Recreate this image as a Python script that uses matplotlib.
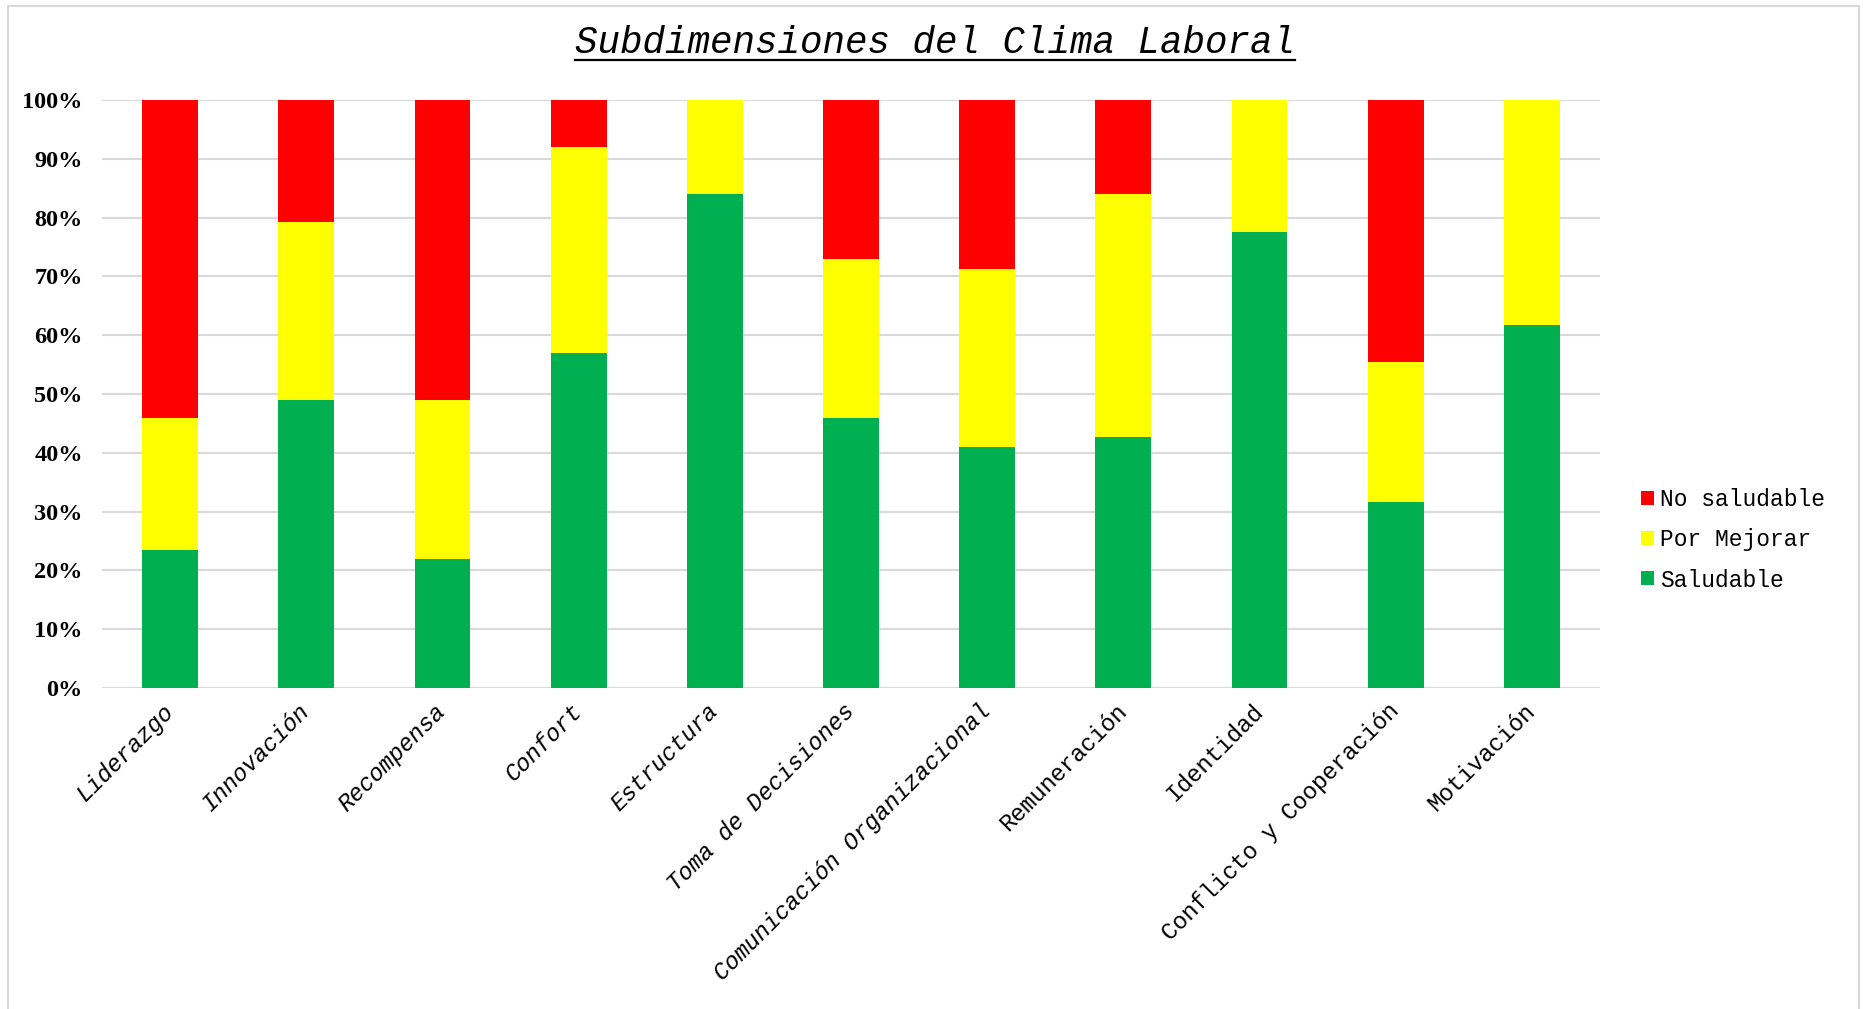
import numpy as np
import matplotlib
matplotlib.use("Agg")
import matplotlib.pyplot as plt
from matplotlib.lines import Line2D
from matplotlib.patches import Rectangle
from matplotlib.ticker import FuncFormatter, MultipleLocator

# Datos (porcentajes)
categorias = ["Liderazgo", "Innovación", "Recompensa", "Confort", "Estructura",
              "Toma de Decisiones", "Comunicación Organizacional", "Remuneración",
              "Identidad", "Conflicto y Cooperación", "Motivación"]
saludable = [23.5, 49.0, 22.0, 57.0, 84.0, 46.0, 41.0, 42.7, 77.6, 31.6, 61.8]
por_mejorar = [22.4, 30.2, 27.0, 35.0, 16.0, 27.0, 30.3, 41.3, 22.4, 23.8, 38.2]
no_saludable = [54.1, 20.8, 51.0, 8.0, 0.0, 27.0, 28.7, 16.0, 0.0, 44.6, 0.0]

verde = "#00B050"
amarillo = "#FFFF00"
rojo = "#FF0000"
mono = "Liberation Mono"

fig = plt.figure(figsize=(18.63, 10.09), dpi=100)
ax = fig.add_axes([0.0548, 0.318, 0.804, 0.583])

x = np.arange(len(categorias))
s = np.array(saludable)
p = np.array(por_mejorar)
n = np.array(no_saludable)
ancho = 0.41
ax.bar(x, s, ancho, color=verde, label="Saludable", zorder=3)
ax.bar(x, p, ancho, bottom=s, color=amarillo, label="Por Mejorar", zorder=3)
ax.bar(x, n, ancho, bottom=s + p, color=rojo, label="No saludable", zorder=3)

ax.set_xlim(-0.5, len(categorias) - 0.5)
ax.set_ylim(0, 100)
ax.yaxis.set_major_locator(MultipleLocator(10))
ax.yaxis.set_major_formatter(FuncFormatter(lambda v, pos: f"{v:.0f}%"))
ax.grid(axis="y", color="#D9D9D9", linewidth=1.5, zorder=0)
ax.tick_params(length=0)
ax.tick_params(axis="y", pad=14)
ax.tick_params(axis="x", pad=14)
for sp in ax.spines.values():
    sp.set_visible(False)

for lab in ax.get_yticklabels():
    lab.set_fontfamily("Liberation Serif")
    lab.set_fontweight("bold")
    lab.set_fontsize(17.5)

ax.set_xticks(x)
ax.set_xticklabels(categorias, rotation=45, ha="right", va="center",
                   rotation_mode="anchor", fontfamily=mono, fontsize=17)
for i, lab in enumerate(ax.get_xticklabels()):
    if i < 7:
        lab.set_fontstyle("italic")

h, l = ax.get_legend_handles_labels()
leg = fig.legend(h[::-1], l[::-1], loc="center left", bbox_to_anchor=(0.870, 0.465),
                 frameon=False, prop={"family": mono, "size": 16.5},
                 handlelength=0.55, handleheight=0.55, handletextpad=0.25,
                 labelspacing=0.75)

titulo = fig.text(0.502, 0.957, "Subdimensiones del Clima Laboral", ha="center",
                  va="center", fontfamily=mono, fontstyle="italic", fontsize=27)

# subrayado del titulo
fig.canvas.draw()
bb = titulo.get_window_extent(fig.canvas.get_renderer())
W, H = fig.bbox.width, fig.bbox.height
yl = (bb.y0 + 1) / H
fig.add_artist(Line2D([bb.x0 / W, bb.x1 / W], [yl, yl], color="black", linewidth=1.6))

# borde del area del grafico
fig.add_artist(Rectangle((8 / W, -0.05), (1851 / W), 1.05 - 6 / H, transform=fig.transFigure,
                         fill=False, edgecolor="#D9D9D9", linewidth=1.5))

fig.savefig("out.png", dpi=100)
